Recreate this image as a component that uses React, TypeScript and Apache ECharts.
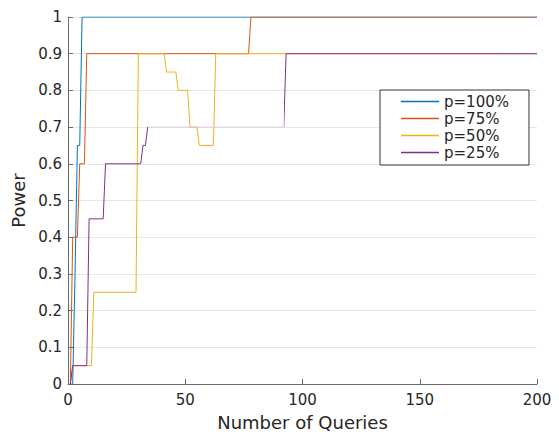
import React, { useEffect, useRef } from "react";
import * as echarts from "echarts";

const seriesNames = ["p=100%", "p=75%", "p=50%", "p=25%"];
const colors = ["#0072BD", "#D95319", "#EDB120", "#7E2F8E"];

const q100 = [1, 2, 3, 4, 5, 6, 200];
const p100 = [0, 0, 0.3, 0.65, 0.65, 1, 1];

const q75 = [1, 2, 4, 5, 7, 8, 77, 78, 200];
const p75 = [0, 0.4, 0.4, 0.6, 0.6, 0.9, 0.9, 1, 1];

const q50 = [1, 2, 10, 11, 29, 30, 41, 42, 46, 47, 51, 52, 55, 56, 62, 63, 200];
const p50 = [0, 0.05, 0.05, 0.25, 0.25, 0.9, 0.9, 0.85, 0.85, 0.8, 0.8, 0.7, 0.7, 0.65, 0.65, 0.9, 0.9];

const q25 = [1, 2, 8, 9, 15, 16, 31, 32, 33, 34, 92, 93, 200];
const p25 = [0, 0.05, 0.05, 0.45, 0.45, 0.6, 0.6, 0.65, 0.65, 0.7, 0.7, 0.9, 0.9];

// the p=25% plateau that renders pale in the reference
const paleQ25From = 34;
const paleQ25To = 92;

const xTicks = [0, 50, 100, 150, 200];
const yTickStep = 0.1;

const allQ = [q100, q75, q50, q25];
const allP = [p100, p75, p50, p25];

const FONT = "DejaVu Sans";

export default function App() {
  const ref = useRef<HTMLDivElement>(null);
  useEffect(() => {
    if (!ref.current) return;
    const chart = echarts.init(ref.current, null, { renderer: "svg" });
    const axisColor = "#6a6a6a";
    const textColor = "#262626";
    chart.setOption({
      animation: false,
      backgroundColor: "#ffffff",
      color: colors,
      grid: { left: 68, right: 22, top: 17, bottom: 50, containLabel: false },
      xAxis: {
        type: "value",
        min: xTicks[0],
        max: xTicks[xTicks.length - 1],
        interval: xTicks[1] - xTicks[0],
        name: "Number of Queries",
        nameLocation: "middle",
        nameGap: 29,
        nameTextStyle: { fontFamily: FONT, fontSize: 18, color: textColor },
        axisLine: { show: true, onZero: false, lineStyle: { color: axisColor, width: 1 } },
        axisTick: { show: true, inside: true, length: 5, lineStyle: { color: axisColor } },
        axisLabel: { fontFamily: FONT, fontSize: 15, color: textColor, margin: 8 },
        splitLine: { show: false },
      },
      yAxis: {
        type: "value",
        min: 0,
        max: 1,
        interval: yTickStep,
        name: "Power",
        nameLocation: "middle",
        nameGap: 39,
        nameTextStyle: { fontFamily: FONT, fontSize: 18, color: textColor },
        axisLine: { show: true, lineStyle: { color: axisColor, width: 1 } },
        axisTick: { show: true, inside: true, length: 5, lineStyle: { color: axisColor } },
        axisLabel: { fontFamily: FONT, fontSize: 15, color: textColor, margin: 6 },
        splitLine: { show: true, lineStyle: { color: "#e6e6e6", width: 1 } },
      },
      visualMap: {
        show: false,
        type: "piecewise",
        seriesIndex: 3,
        dimension: 0,
        pieces: [{ min: paleQ25From, max: paleQ25To, color: "#dfcbe3" }],
        outOfRange: { color: colors[3] },
      },
      legend: {
        orient: "vertical",
        left: 380,
        top: 90,
        padding: [3, 20, 4, 21],
        itemGap: 0,
        itemWidth: 38,
        itemHeight: 1.4,
        icon: "rect",
        itemStyle: { borderWidth: 0 },
        borderColor: "#333333",
        borderWidth: 1,
        backgroundColor: "#ffffff",
        textStyle: { fontFamily: FONT, fontSize: 15, color: textColor, lineHeight: 17 },
        data: seriesNames.map((name, i) => ({
          name,
          itemStyle: { color: colors[i], borderWidth: 0 },
        })),
      },
      series: seriesNames.map((name, i) => ({
        name,
        type: "line",
        symbol: "none",
        lineStyle: { width: 1 },
        data: allQ[i].map((q, j) => [q, allP[i][j]]),
      })),
    });
    return () => chart.dispose();
  }, []);
  return <div ref={ref} style={{ width: 559, height: 436, position: "absolute", left: 0, top: 0 }} />;
}
